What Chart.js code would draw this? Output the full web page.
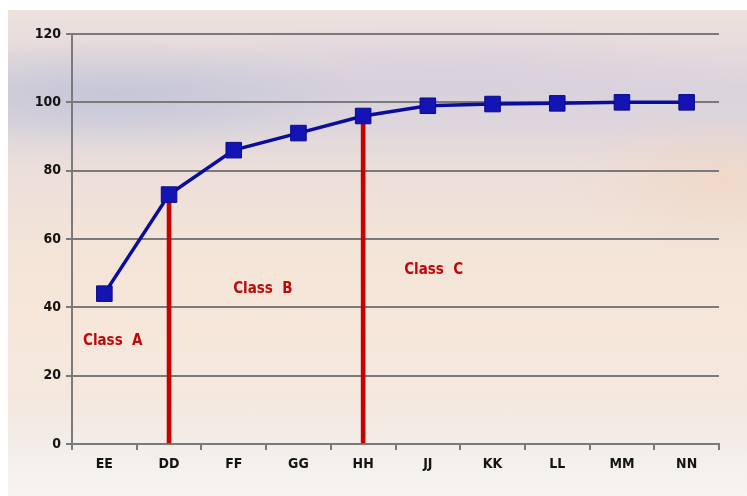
<!DOCTYPE html>
<html>
<head>
<meta charset="utf-8">
<script src="https://cdn.jsdelivr.net/npm/chart.js@4/dist/chart.umd.min.js"></script>
<style>
  html, body { margin: 0; padding: 0; background: #fff; }
  #wrap { position: relative; width: 747px; height: 496px; }
  #sky {
    position: absolute; left: 8px; top: 10px; right: 0; bottom: 0;
    background:
      radial-gradient(ellipse 260px 55px at 110px 85px, rgba(190,194,214,0.75), rgba(190,194,214,0) 100%),
      radial-gradient(ellipse 300px 45px at 430px 60px, rgba(210,205,220,0.5), rgba(210,205,220,0) 100%),
      radial-gradient(ellipse 160px 70px at 715px 170px, rgba(240,212,192,0.6), rgba(240,212,192,0) 100%),
      linear-gradient(to bottom, #eee2de 0px, #e6dadc 40px, #dad3dc 80px, #ded6dc 115px,
        #ecdfda 160px, #f3e4d8 230px, #f6e7da 320px, #f4e8de 390px, #f3eeea 440px, #f7f4f1 486px);
  }
  canvas { position: absolute; left: 0; top: 0; }
</style>
</head>
<body>
<div id="wrap">
  <div id="sky"></div>
  <canvas id="myChart" width="747" height="496"></canvas>
</div>
<script>
'use strict';

const categories = ['EE', 'DD', 'FF', 'GG', 'HH', 'JJ', 'KK', 'LL', 'MM', 'NN'];
const cumulative = [44, 73, 86, 91, 96, 99, 99.5, 99.7, 100, 100];
const classCuts = [null, 73, null, null, 96, null, null, null, null, null];
const yTicks = [0, 20, 40, 60, 80, 100, 120];
const classLabels = ['Class  A', 'Class  B', 'Class  C'];
const classLabelAt = [[0.13, 30], [2.45, 45.4], [5.09, 51]];

const tickFont = { family: '"DejaVu Sans Condensed", "DejaVu Sans"', size: 14, weight: 'bold' };

const classText = {
    id: 'classText',
    afterDatasetsDraw(chart) {
        const c = chart.ctx;
        const x = chart.scales.x;
        const y = chart.scales.y;
        c.save();
        c.font = 'bold 15px "DejaVu Sans Condensed", "DejaVu Sans"';
        c.fillStyle = '#bc0a0a';
        c.textAlign = 'center';
        c.textBaseline = 'middle';
        classLabels.forEach((t, i) => {
            c.fillText(t, x.getPixelForValue(classLabelAt[i][0]), y.getPixelForValue(classLabelAt[i][1]));
        });
        c.restore();
    }
};

const ctx = document.getElementById('myChart').getContext('2d');

new Chart(ctx, {
    data: {
        labels: categories,
        datasets: [
            {
                type: 'line',
                data: cumulative,
                borderColor: '#0c0c9c',
                borderWidth: 3.5,
                pointStyle: 'rect',
                pointRadius: 11,
                pointBackgroundColor: '#1414b4',
                pointBorderColor: '#0a0a8a',
                pointBorderWidth: 1,
                tension: 0,
                order: 0
            },
            {
                type: 'bar',
                data: classCuts,
                backgroundColor: '#c80000',
                barThickness: 4,
                order: 1
            }
        ]
    },
    options: {
        responsive: false,
        animation: false,
        devicePixelRatio: 1,
        layout: { padding: { left: 0, top: 34, right: 28, bottom: 0 } },
        plugins: {
            legend: { display: false },
            tooltip: { enabled: false }
        },
        scales: {
            x: {
                offset: true,
                grid: {
                    offset: true,
                    drawOnChartArea: false,
                    drawTicks: true,
                    tickLength: 6,
                    color: '#7a7a7a',
                    lineWidth: 2
                },
                border: { color: '#7a7a7a', width: 2 },
                ticks: { font: tickFont, color: '#141414', padding: 6 },
                afterFit(scale) { scale.height = 52; }
            },
            y: {
                min: 0,
                max: 120,
                afterBuildTicks(scale) { scale.ticks = yTicks.map(v => ({ value: v })); },
                grid: {
                    color: '#7a7a7a',
                    lineWidth: 2,
                    tickLength: 6
                },
                border: { color: '#7a7a7a', width: 2 },
                ticks: { font: tickFont, color: '#141414', padding: 5 },
                afterFit(scale) { scale.width = 72; }
            }
        }
    },
    plugins: [classText]
});
</script>
</body>
</html>
